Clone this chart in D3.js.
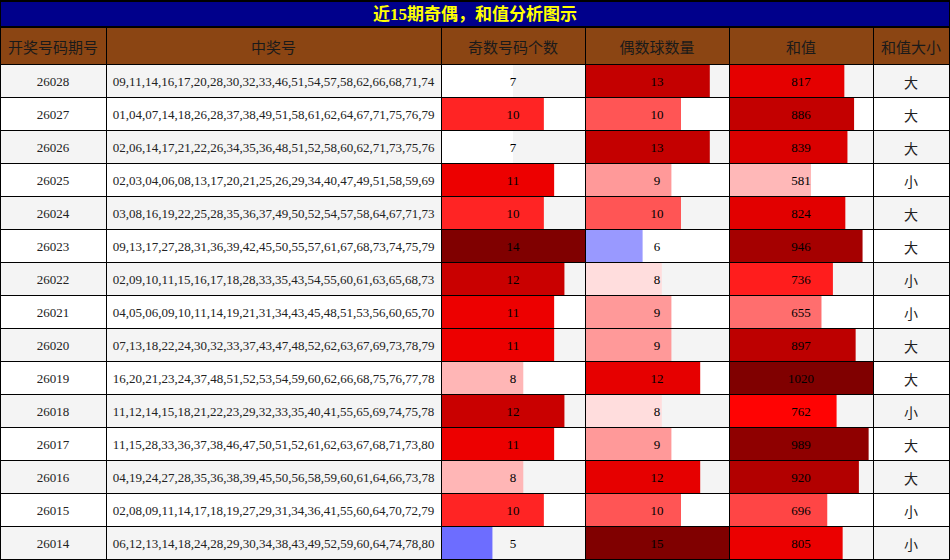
<!DOCTYPE html>
<html>
<head>
<meta charset="utf-8">
<script src="https://cdn.jsdelivr.net/npm/d3@7/dist/d3.min.js"></script>
<style>
  html,body{margin:0;padding:0;background:#fff;}
  svg{display:block;}
</style>
</head>
<body>
<svg id="stage" width="950" height="560"></svg>
<script>
// ---- data ----
const title = "近15期奇偶，和值分析图示";
const headers = ["开奖号码期号","中奖号","奇数号码个数","偶数球数量","和值","和值大小"];
const periods = ["26028","26027","26026","26025","26024","26023","26022","26021","26020","26019","26018","26017","26016","26015","26014"];
const draws = [
  "09,11,14,16,17,20,28,30,32,33,46,51,54,57,58,62,66,68,71,74",
  "01,04,07,14,18,26,28,37,38,49,51,58,61,62,64,67,71,75,76,79",
  "02,06,14,17,21,22,26,34,35,36,48,51,52,58,60,62,71,73,75,76",
  "02,03,04,06,08,13,17,20,21,25,26,29,34,40,47,49,51,58,59,69",
  "03,08,16,19,22,25,28,35,36,37,49,50,52,54,57,58,64,67,71,73",
  "09,13,17,27,28,31,36,39,42,45,50,55,57,61,67,68,73,74,75,79",
  "02,09,10,11,15,16,17,18,28,33,35,43,54,55,60,61,63,65,68,73",
  "04,05,06,09,10,11,14,19,21,31,34,43,45,48,51,53,56,60,65,70",
  "07,13,18,22,24,30,32,33,37,43,47,48,52,62,63,67,69,73,78,79",
  "16,20,21,23,24,37,48,51,52,53,54,59,60,62,66,68,75,76,77,78",
  "11,12,14,15,18,21,22,23,29,32,33,35,40,41,55,65,69,74,75,78",
  "11,15,28,33,36,37,38,46,47,50,51,52,61,62,63,67,68,71,73,80",
  "04,19,24,27,28,35,36,38,39,45,50,56,58,59,60,61,64,66,73,78",
  "02,08,09,11,14,17,18,19,27,29,31,34,36,41,55,60,64,70,72,79",
  "06,12,13,14,18,24,28,29,30,34,38,43,49,52,59,60,64,74,78,80"
];
const oddCounts  = [7,10,7,11,10,14,12,11,11,8,12,11,8,10,5];
const evenCounts = [13,10,13,9,10,6,8,9,9,12,8,9,12,10,15];
const sums       = [817,886,839,581,824,946,736,655,897,1020,762,989,920,696,805];
const sizes      = ["大","大","大","小","大","大","小","小","大","大","小","大","大","小","小"];

// ---- layout ----
const svg = d3.select("#stage");
const colX = [0,106,441,585,729,873,949];
const TITLE_H = 26, HEAD_Y = 27, ROW_Y = 64, BOTTOM = 559;
const serif = "'Liberation Serif','Noto Sans CJK SC',serif";
const cjk = "'Noto Sans CJK SC','Liberation Serif',sans-serif";

const y = d3.scaleBand().domain(periods).range([ROW_Y, BOTTOM]);

// seismic colormap, normalised 0..max per column
const seismic = d3.scaleLinear()
  .domain([0,0.25,0.5,0.75,1])
  .range(["#00004d","#0000ff","#ffffff","#ff0000","#800000"])
  .clamp(true);

// title
svg.append("rect").attr("x",0).attr("y",0).attr("width",950).attr("height",TITLE_H)
  .attr("fill","#00008b");
svg.append("text").attr("x",475).attr("y",TITLE_H/2+1)
  .attr("text-anchor","middle").attr("dominant-baseline","central")
  .attr("fill","#ffff00").attr("font-weight","bold").attr("font-size",17)
  .attr("font-family",serif).text(title);

// header
svg.append("rect").attr("x",0).attr("y",HEAD_Y).attr("width",950).attr("height",ROW_Y-HEAD_Y)
  .attr("fill","#8b4513");
svg.append("g").selectAll("text").data(headers).join("text")
  .attr("x",(d,i)=>(colX[i]+colX[i+1])/2)
  .attr("y",(HEAD_Y+ROW_Y)/2+1)
  .attr("text-anchor","middle").attr("dominant-baseline","central")
  .attr("fill","#1a1a1a").attr("font-size",15).attr("font-family",cjk)
  .text(d=>d);

// rows
const rows = svg.append("g").selectAll("g").data(periods).join("g")
  .attr("transform",d=>`translate(0,${y(d)})`);
rows.append("rect").attr("x",0).attr("width",950).attr("height",y.bandwidth())
  .attr("fill",(d,i)=> i%2===0 ? "#f4f4f4" : "#ffffff");

// bar columns
const barCols = [
  {col:2, vals:oddCounts},
  {col:3, vals:evenCounts},
  {col:4, vals:sums}
];
barCols.forEach(({col,vals})=>{
  const x0 = colX[col], x1 = colX[col+1];
  const max = d3.max(vals);
  const w = d3.scaleLinear().domain([0,max]).range([0,x1-x0]);
  rows.append("rect")
    .attr("x",x0).attr("y",0)
    .attr("width",(d,i)=>w(vals[i]))
    .attr("height",y.bandwidth())
    .attr("fill",(d,i)=>seismic(vals[i]/max));
  rows.append("text")
    .attr("x",(x0+x1)/2).attr("y",y.bandwidth()/2+1)
    .attr("text-anchor","middle").attr("dominant-baseline","central")
    .attr("fill","#000").attr("font-size",13).attr("font-family",serif)
    .text((d,i)=>vals[i]);
});

// plain text columns
rows.append("text")
  .attr("x",(colX[0]+colX[1])/2).attr("y",y.bandwidth()/2+1)
  .attr("text-anchor","middle").attr("dominant-baseline","central")
  .attr("fill","#222").attr("font-size",13).attr("font-family",serif)
  .text(d=>d);
rows.append("text")
  .attr("x",(colX[1]+colX[2])/2).attr("y",y.bandwidth()/2+1)
  .attr("text-anchor","middle").attr("dominant-baseline","central")
  .attr("fill","#222").attr("font-size",13).attr("font-family",serif)
  .text((d,i)=>draws[i]);
rows.append("text")
  .attr("x",(colX[5]+colX[6])/2).attr("y",y.bandwidth()/2+1)
  .attr("text-anchor","middle").attr("dominant-baseline","central")
  .attr("fill","#222").attr("font-size",14).attr("font-family",cjk)
  .text((d,i)=>sizes[i]);

// grid lines
const grid = svg.append("g").attr("stroke","#000").attr("shape-rendering","crispEdges");
const hLines = [HEAD_Y-0.5, ROW_Y].concat(periods.map(p=>y(p)+y.bandwidth()));
grid.selectAll("line.h").data(hLines).join("line").attr("class","h")
  .attr("x1",0).attr("x2",950).attr("y1",d=>d+0.5).attr("y2",d=>d+0.5)
  .attr("stroke-width",d=>d===HEAD_Y-0.5?2:1.5);
grid.selectAll("line.v").data(colX).join("line").attr("class","v")
  .attr("x1",d=>d+0.5).attr("x2",d=>d+0.5)
  .attr("y1",(d,i)=> (i===0||i===colX.length-1) ? 0 : HEAD_Y)
  .attr("y2",BOTTOM+1)
  .attr("stroke-width",1.5);
grid.append("line").attr("x1",0).attr("x2",950).attr("y1",1).attr("y2",1).attr("stroke-width",2);
</script>
</body>
</html>
